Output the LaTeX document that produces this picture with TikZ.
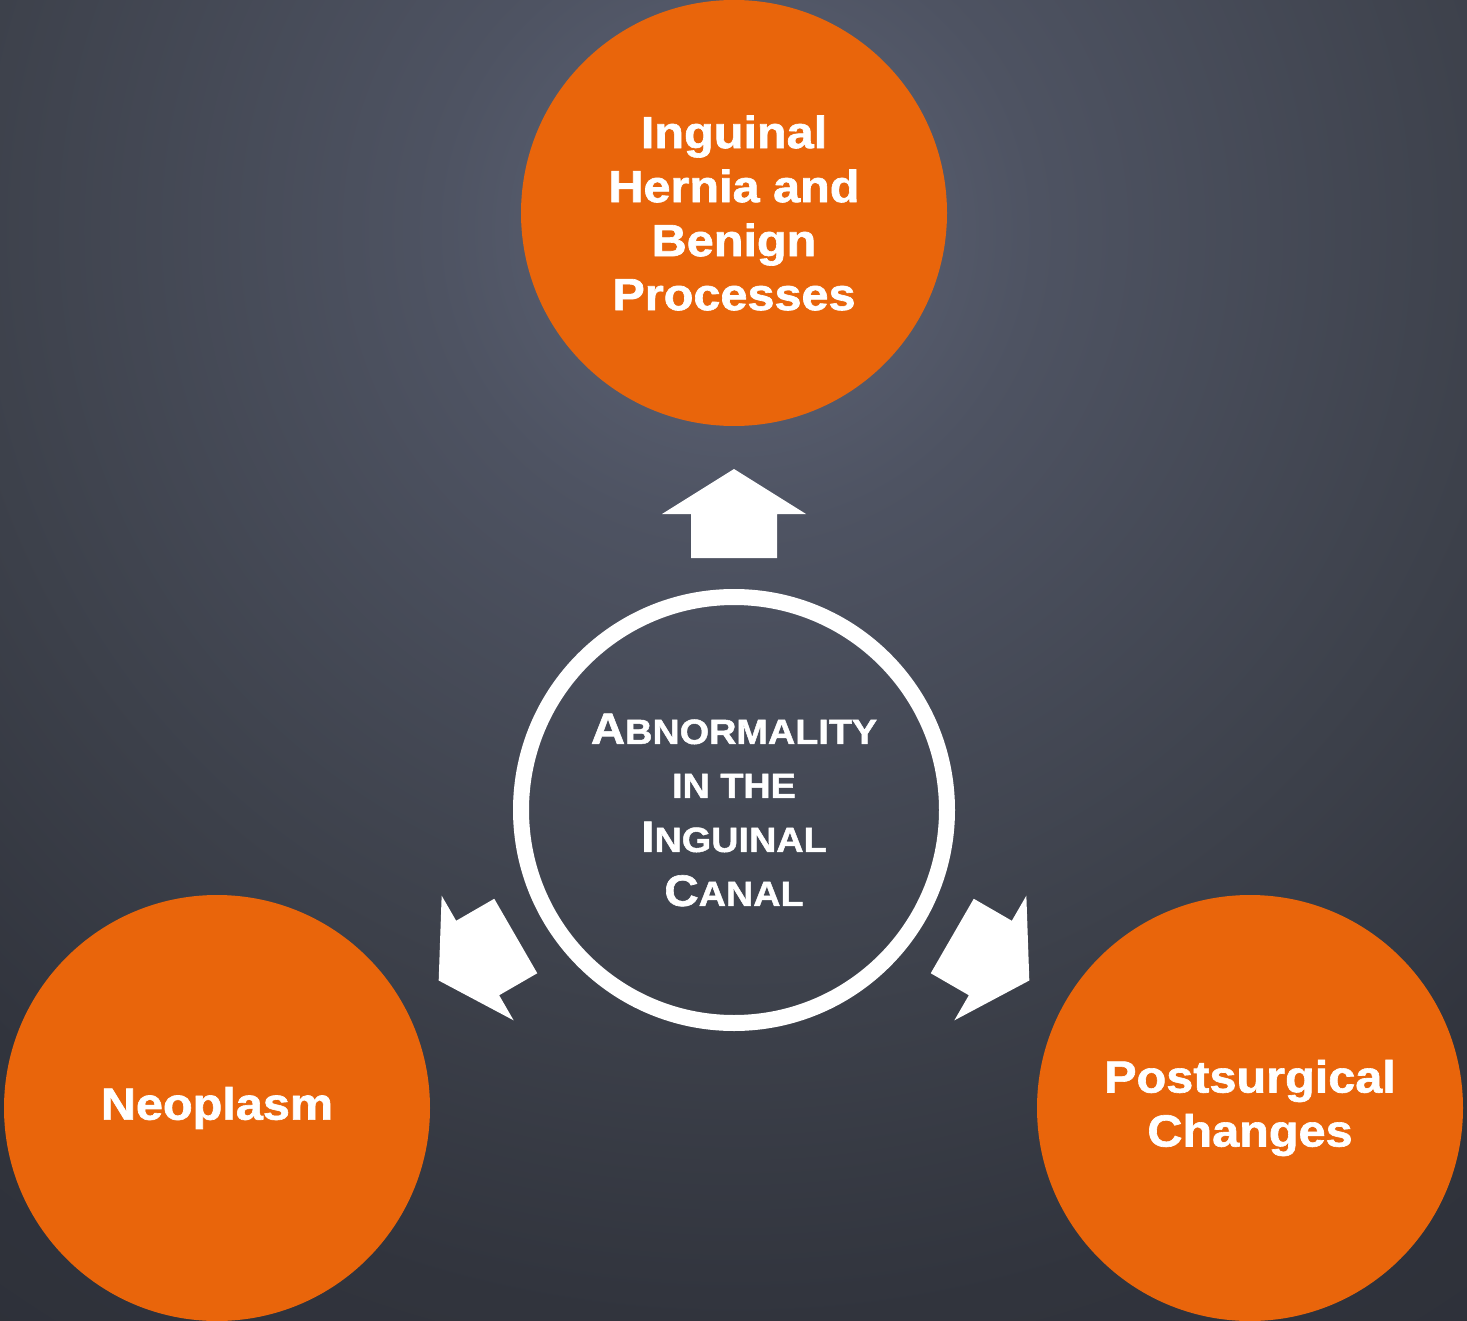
\documentclass[tikz,border=0pt]{standalone}
\usepackage{fontspec}
\setmainfont{Liberation Sans}[FakeStretch=1.08, BoldFeatures={FakeBold=1.4}]
\definecolor{bgA}{HTML}{5F6578}
\definecolor{bgB}{HTML}{4E5362}
\definecolor{bgC}{HTML}{3D414B}
\definecolor{bgD}{HTML}{31343D}
\definecolor{bgE}{HTML}{2D3038}
\definecolor{topic}{HTML}{E9650B}
% radial backdrop: 25bp is the rim of the shaded circle
\pgfdeclareradialshading{backdrop}{\pgfpoint{0bp}{0bp}}{%
  color(0bp)=(bgA); color(5.4bp)=(bgB); color(13.7bp)=(bgC);
  color(19.5bp)=(bgD); color(25bp)=(bgE); color(50bp)=(bgE)}
% small caps built from two sizes of capitals
\newcommand{\capsc}[2]{#1{\fontsize{17.5}{27}\selectfont #2}}
\tikzset{
  topicdisc/.style={circle, fill=topic, minimum size=213pt, inner sep=0pt,
    text=white, align=center, font=\bfseries\fontsize{22.5}{27}\selectfont},
  hub/.style={circle, draw=white, line width=8pt, minimum size=213pt, inner sep=0pt,
    text=white, align=center, font=\bfseries\fontsize{22}{27}\selectfont},
  blockarrow/.style={fill=white, draw=none}
}
\begin{document}
\begin{tikzpicture}[x=0.5pt, y=-0.5pt]
  \useasboundingbox (0,0) rectangle (1467,1321);
  % backdrop with a soft light spot near the top
  \begin{scope}
    \clip (0,0) rectangle (1467,1321);
    \shade[shading=backdrop] (735,230) circle (1400);
  \end{scope}

  % the three outcomes
  \node[topicdisc] (hernia) at (734,213) {Inguinal\\Hernia and\\Benign\\Processes};
  \node[topicdisc] (neo) at (217,1108) {Neoplasm};
  \node[topicdisc] (post) at (1250,1108) {Postsurgical\\Changes};

  % central ring
  \node[hub] (hub) at (734,810) {%
    \capsc{A}{BNORMALITY}\\
    \capsc{}{IN THE}\\
    \capsc{I}{NGUINAL}\\
    \capsc{C}{ANAL}};

  % block arrows from the ring towards each outcome
  \foreach \ang in {0, 120, -120}{
    \begin{scope}[rotate around={\ang:(hub.center)}]
      \fill[blockarrow] (662,514) -- (734,469) -- (806,514) -- (777,514)
        -- (777,558) -- (691,558) -- (691,514) -- cycle;
    \end{scope}
  }
\end{tikzpicture}
\end{document}
